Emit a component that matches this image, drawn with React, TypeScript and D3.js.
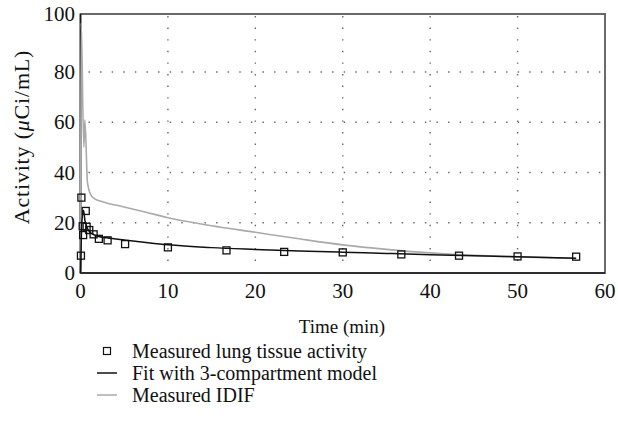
import React from "react";
import * as d3 from "d3";

const xTicks = [0, 10, 20, 30, 40, 50, 60];
const yTicks = [0, 20, 40, 60, 80, 100];

// Measured lung tissue activity (time min, activity uCi/mL)
const tissueTime = [0.05, 0.1, 0.25, 0.3, 0.6, 0.7, 1.0, 1.5, 2.1, 3.1, 5.1, 10, 16.7, 23.3, 30, 36.7, 43.3, 50, 56.7];
const tissueValue = [6.9, 30, 18.6, 15.1, 24.7, 18.4, 17.1, 15.4, 13.6, 13.0, 11.5, 10.2, 9.0, 8.4, 8.2, 7.4, 6.9, 6.6, 6.5];

// Fit with 3-compartment model
const fitTime = [0, 0.05, 0.15, 0.35, 0.5, 0.7, 1.0, 1.5, 2, 3, 5, 7.5, 10, 15, 20, 25, 30, 35, 40, 45, 50, 56.7];
const fitValue = [0, 7, 20, 25, 21, 18.5, 16.5, 15.3, 14.6, 14.0, 13.1, 12.1, 11.2, 10.1, 9.4, 8.8, 8.3, 7.8, 7.3, 6.9, 6.5, 5.9];

// Measured IDIF
const idifTime = [0, 0.08, 0.38, 0.5, 0.8, 1.2, 1.6, 2.5, 5, 7.5, 10, 12.5, 15, 20, 25, 30, 35, 40, 45, 50, 56.7];
const idifValue = [0, 97, 50, 61, 36, 31, 29.6, 28.4, 26.3, 24.2, 22, 20.3, 18.8, 16.2, 13.6, 11.2, 9.4, 8.0, 7.0, 6.4, 5.8];

const FONT = "'Liberation Serif', 'Times New Roman', serif";
const FS = 21;

export default function App() {
  const x = d3.scaleLinear().domain([0, 60]).range([80.5, 605]);
  const y = d3.scaleLinear().domain([0, 80, 100]).range([273, 72, 14]);

  const line = d3
    .line<[number, number]>()
    .x((d) => x(d[0]))
    .y((d) => y(d[1]))
    .curve(d3.curveMonotoneX);

  const fitPts: [number, number][] = fitTime.map((t, i) => [t, fitValue[i]]);
  const idifPts: [number, number][] = idifTime.map((t, i) => [t, idifValue[i]]);
  const tissuePts: [number, number][] = tissueTime.map((t, i) => [t, tissueValue[i]]);

  const x0 = x(0), x1 = x(60), yTop = y(100), yBot = y(0);
  const sq = 7;

  return (
    <svg width={618} height={429} style={{ position: "absolute", left: 0, top: 0, background: "#fff" }} fontFamily={FONT}>
      <rect x={0} y={0} width={618} height={429} fill="#fff" />
      {/* grid */}
      {yTicks.filter((v) => v > 0 && v < 100).map((v) => (
        <line key={"gy" + v} x1={x0 + 8} x2={x1} y1={y(v)} y2={y(v)} stroke="#666" strokeWidth={1.4} strokeDasharray="1.4 10.2" />
      ))}
      {xTicks.filter((v) => v > 0 && v < 60).map((v) => (
        <line key={"gx" + v} x1={x(v)} x2={x(v)} y1={yBot - 12} y2={yTop} stroke="#666" strokeWidth={1.4} strokeDasharray="1.4 10.2" />
      ))}
      {/* frame */}
      <rect x={x0} y={yTop} width={x1 - x0} height={yBot - yTop} fill="none" stroke="#5a5a5a" strokeWidth={1.8} />
      <line x1={x0} x2={x0} y1={yTop} y2={yBot} stroke="#1a1a1a" strokeWidth={1.5} />
      <line x1={x0} x2={x1} y1={yBot} y2={yBot} stroke="#1a1a1a" strokeWidth={1.5} />

      {/* IDIF */}
      <path d={line(idifPts) || ""} fill="none" stroke="#aaa" strokeWidth={1.6} />
      {/* fit */}
      <path d={line(fitPts) || ""} fill="none" stroke="#111" strokeWidth={1.5} />
      {/* squares */}
      {tissuePts.map((d, i) => (
        <rect key={"s" + i} x={x(d[0]) - sq / 2} y={y(d[1]) - sq / 2} width={sq} height={sq} fill="none" stroke="#111" strokeWidth={1.3} />
      ))}

      {/* y tick labels */}
      {yTicks.map((v) => (
        <text key={"ty" + v} x={75} y={y(v)} dy="0.34em" textAnchor="end" fontSize={FS} fill="#111">{v}</text>
      ))}
      {/* x tick labels */}
      {xTicks.map((v) => (
        <text key={"tx" + v} x={x(v)} y={298} textAnchor="middle" fontSize={FS} fill="#111">{v}</text>
      ))}
      <text x={342} y={333} textAnchor="middle" fontSize={19} fill="#111">Time (min)</text>
      <text transform={`translate(29,137) rotate(-90)`} textAnchor="middle" fontSize={22} letterSpacing={0.8} fill="#111">
        Activity (<tspan fontStyle="italic">μ</tspan>Ci/mL)
      </text>

      {/* legend */}
      <rect x={107 - 3.5} y={351 - 3.5} width={7} height={7} fill="none" stroke="#111" strokeWidth={1.2} />
      <text x={132} y={358} fontSize={20} fill="#111">Measured lung tissue activity</text>
      <line x1={97} x2={117} y1={373} y2={373} stroke="#111" strokeWidth={1.5} />
      <text x={132} y={380} fontSize={20} fill="#111">Fit with 3-compartment model</text>
      <line x1={97} x2={117} y1={395} y2={395} stroke="#aaa" strokeWidth={1.5} />
      <text x={132} y={402} fontSize={20} fill="#111">Measured IDIF</text>
    </svg>
  );
}
